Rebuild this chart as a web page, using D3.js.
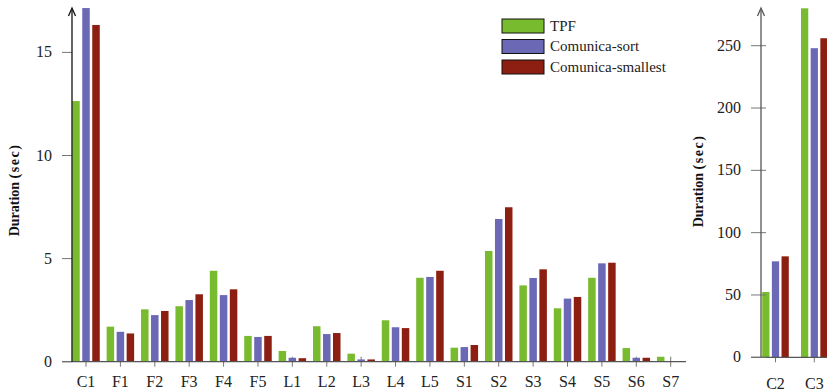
<!DOCTYPE html>
<html>
<head>
<meta charset="utf-8">
<script src="https://cdn.jsdelivr.net/npm/d3@7"></script>
<style>
  html, body { margin: 0; padding: 0; background: #fff; }
  svg { display: block; }
</style>
</head>
<body>
<svg id="chart" width="827" height="391" font-family="'Liberation Serif', 'Times New Roman', Times, 'DejaVu Serif', serif"></svg>
<script>
// Query durations, main panel
const categories = ["C1","F1","F2","F3","F4","F5","L1","L2","L3","L4","L5","S1","S2","S3","S4","S5","S6","S7"];
const tpf       = [12.64, 1.70, 2.54, 2.69, 4.41, 1.25, 0.52, 1.72, 0.39, 2.01, 4.07, 0.68, 5.37, 3.70, 2.59, 4.07, 0.66, 0.24];
const cSort     = [17.15, 1.45, 2.26, 2.99, 3.23, 1.20, 0.19, 1.34, 0.11, 1.67, 4.11, 0.71, 6.92, 4.06, 3.06, 4.77, 0.19, 0.00];
const cSmallest = [16.33, 1.37, 2.46, 3.27, 3.51, 1.25, 0.17, 1.39, 0.11, 1.63, 4.41, 0.81, 7.49, 4.48, 3.14, 4.80, 0.19, 0.00];
const leftTicks = [0, 5, 10, 15];

// Query durations, long-running panel
const categories2 = ["C2","C3"];
const tpf2        = [52.4, 280];
const cSort2      = [77, 248];
const cSmallest2  = [81, 256];
const rightTicks  = [0, 50, 100, 150, 200, 250];

const seriesNames  = ["TPF", "Comunica-sort", "Comunica-smallest"];
const seriesColors = ["#78bb2e", "#6b68b6", "#8c1f11"];

const svg = d3.select("#chart");

function panel(cfg) {
  const { cats, series, ticks, x, y, sub, axisColor, tickCross } = cfg;
  const g = svg.append("g");
  const [x0, x1] = cfg.axisSpan;
  const base = y(0);

  // category ticks (behind bars)
  g.selectAll("line.xt").data(cats).enter().append("line")
    .attr("x1", d => x(d)).attr("x2", d => x(d))
    .attr("y1", base - 5).attr("y2", base + 5)
    .attr("stroke", "#777").attr("stroke-width", 1);

  // bars
  cats.forEach((c, i) => {
    series.forEach((vals, s) => {
      const v = vals[i];
      g.append("rect")
        .attr("x", x(c) + sub(seriesNames[s]))
        .attr("y", y(v))
        .attr("width", sub.bandwidth())
        .attr("height", Math.max(0, base - y(v)))
        .attr("fill", seriesColors[s]);
    });
  });

  // baseline
  g.append("line").attr("x1", x0 - 10).attr("x2", x1)
    .attr("y1", base).attr("y2", base)
    .attr("stroke", "#555").attr("stroke-width", 1.3);

  // y ticks + labels
  g.selectAll("line.yt").data(ticks).enter().append("line")
    .attr("x1", x0 - 10).attr("x2", x0 + (tickCross ? 5 : 0))
    .attr("y1", d => y(d)).attr("y2", d => y(d))
    .attr("stroke", "#777").attr("stroke-width", 1);
  g.selectAll("text.yl").data(ticks).enter().append("text")
    .attr("x", x0 - 20).attr("y", d => y(d) + 5)
    .attr("text-anchor", "end").attr("font-size", 16).attr("fill", "#222")
    .text(d => d);

  // y axis with arrow
  g.append("line").attr("x1", x0).attr("x2", x0)
    .attr("y1", base).attr("y2", 10)
    .attr("stroke", axisColor).attr("stroke-width", 1.3);
  g.append("path")
    .attr("d", `M${x0 - 3.5},${16} L${x0},${8} L${x0 + 3.5},${16}`)
    .attr("fill", "none").attr("stroke", axisColor).attr("stroke-width", 1.3);

  // category labels
  g.selectAll("text.xl").data(cats).enter().append("text")
    .attr("x", d => x(d)).attr("y", cfg.labelY)
    .attr("text-anchor", "middle").attr("font-size", 16).attr("fill", "#222")
    .text(d => d);

  // axis title
  const t = g.append("text")
    .attr("transform", `translate(${cfg.titleX},${cfg.titleY}) rotate(-90)`)
    .attr("text-anchor", "middle").attr("font-size", 14).attr("font-weight", "bold").attr("fill", "#111");
  t.append("tspan").text("Duration ");
  t.append("tspan").attr("letter-spacing", 1.5).text("(sec)");
}

// main panel
const xL = d3.scalePoint().domain(categories).range([86, 670.7]);
const yL = d3.scaleLinear().domain([0, 15]).range([361.7, 52.4]);
const subL = d3.scaleBand().domain(seriesNames).range([-15, 15]).paddingInner(0.25).paddingOuter(0.125);
panel({
  cats: categories, series: [tpf, cSort, cSmallest], ticks: leftTicks,
  x: xL, y: yL, sub: subL, axisSpan: [72, 686], axisColor: "#111",
  tickCross: false, labelY: 387, titleX: 19, titleY: 190
});

// long-running panel
const xR = d3.scalePoint().domain(categories2).range([775.5, 814.3]);
const yR = d3.scaleLinear().domain([0, 250]).range([357.3, 45.7]);
const subR = d3.scaleBand().domain(seriesNames).range([-14.5, 14.5]).paddingInner(0.25).paddingOuter(0.125);
panel({
  cats: categories2, series: [tpf2, cSort2, cSmallest2], ticks: rightTicks,
  x: xR, y: yR, sub: subR, axisSpan: [761, 827], axisColor: "#555",
  tickCross: true, labelY: 388.5, titleX: 703, titleY: 181
});

// legend
const legend = svg.append("g").attr("transform", "translate(502,19)");
seriesNames.forEach((name, i) => {
  const row = legend.append("g").attr("transform", `translate(0,${i * 20.5})`);
  row.append("rect").attr("width", 42).attr("height", 14)
    .attr("fill", seriesColors[i]).attr("stroke", "#111").attr("stroke-width", 1);
  row.append("text").attr("x", 48).attr("y", 11.5).attr("fill", "#222")
    .attr("font-size", 15).text(name);
});
</script>
</body>
</html>
